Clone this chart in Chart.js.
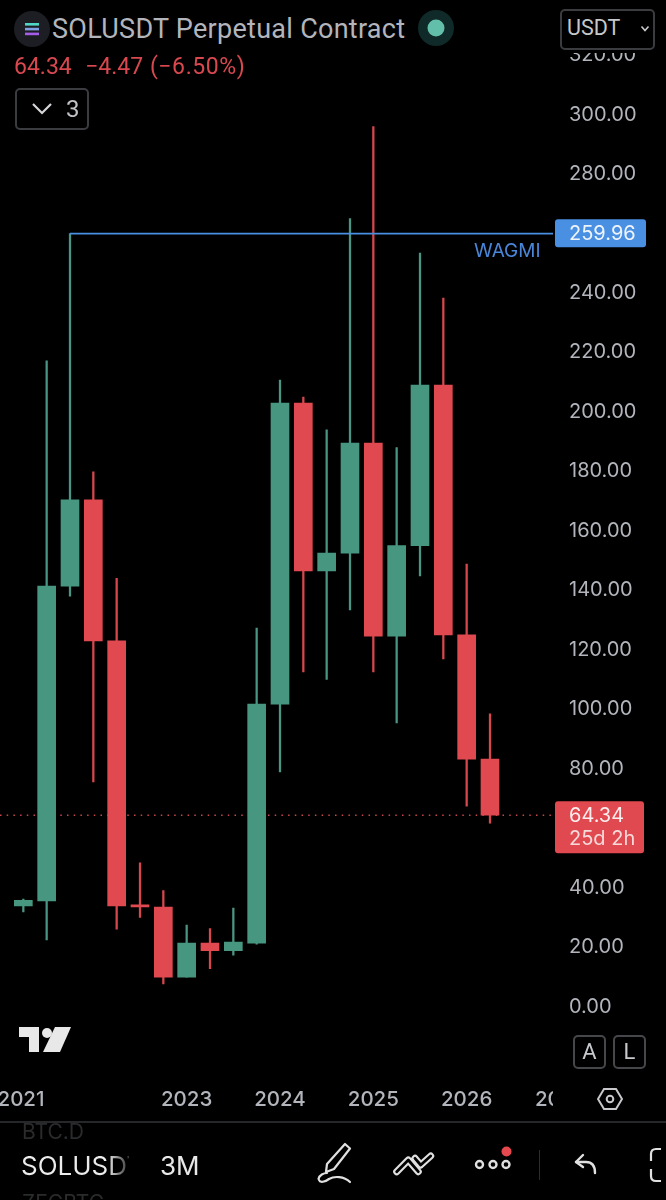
<!DOCTYPE html>
<html><head><meta charset="utf-8">
<script src="https://cdn.jsdelivr.net/npm/chart.js@4"></script>
<style>
html,body{margin:0;padding:0;background:#000;width:666px;height:1200px;overflow:hidden}
body{position:relative;font-family:Inter,Roboto,sans-serif}
canvas{position:absolute;left:0;top:0}
.a{position:absolute;white-space:nowrap}
.box{position:absolute;border:2px solid #3a3c40;border-radius:5px;box-sizing:border-box;background:#000}
</style></head><body>
<div style="position:absolute;left:0;top:0;width:666px;height:1200px"><canvas id="c" width="666" height="1200"></canvas></div>

<div class="a" style="left:0;top:0;width:666px;height:53px;background:#000"></div>
<svg class="a" style="left:14px;top:11px" width="36" height="36" viewBox="0 0 36 36">
 <circle cx="18" cy="18" r="18" fill="#1c1e24"/>
 <rect x="11" y="12" width="14" height="2.6" fill="#4fd6c4"/><rect x="11" y="16.8" width="14" height="2.6" fill="#7f9fe0"/><rect x="11" y="21.6" width="14" height="2.6" fill="#a45de8"/>
</svg>
<div class="a" style="left:52px;top:13px;font-size:27px;line-height:32px;color:#b2b5bc;font-family:Roboto,sans-serif;letter-spacing:.28px">SOLUSDT Perpetual Contract</div>
<svg class="a" style="left:418px;top:10px" width="36" height="36"><circle cx="18" cy="18" r="18" fill="#0f2a28"/><circle cx="18" cy="18" r="8.5" fill="#62bfa9"/></svg>
<div class="box" style="left:560px;top:9px;width:95px;height:41px"></div>
<div class="a" style="left:567px;top:14px;font-size:21.5px;line-height:28px;color:#c6c8cc;font-family:Roboto,sans-serif">USDT</div>
<svg class="a" style="left:640px;top:25px" width="10" height="8"><path d="M1.5 1.5L5 5.5L8.5 1.5" fill="none" stroke="#c6c8cc" stroke-width="1.6"/></svg>
<div class="a" style="left:14px;top:53px;font-size:23px;line-height:28px;color:#d9484f;font-family:Roboto,sans-serif;word-spacing:1px">64.34 &nbsp;−4.47 <span style="letter-spacing:.6px">(−6.50%)</span></div>
<div class="box" style="left:15px;top:88px;width:74px;height:42px"></div>
<svg class="a" style="left:31px;top:102px" width="22" height="14"><path d="M2 2L11 11L20 2" fill="none" stroke="#d5d6d9" stroke-width="2.2"/></svg>
<div class="a" style="left:66px;top:95px;font-size:24px;line-height:28px;color:#c0c2c6;font-family:Roboto,sans-serif">3</div>

<svg class="a" style="left:19px;top:1027px" width="52" height="27" viewBox="0 0 52 27">
 <path d="M0 0H20V25H10V10H0Z" fill="#e8e8e8"/><circle cx="28" cy="6" r="5" fill="#e8e8e8"/><path d="M36 0H52L41 25H24Z" fill="#e8e8e8"/>
</svg>
<div class="box" style="left:573px;top:1035px;width:33px;height:34px;border-color:#45474b"></div>
<div class="box" style="left:613px;top:1035px;width:33px;height:34px;border-color:#45474b"></div>
<div class="a" style="left:573px;top:1038px;width:33px;text-align:center;font-size:22px;line-height:28px;color:#c6c8cc;font-family:Roboto,sans-serif">A</div>
<div class="a" style="left:613px;top:1038px;width:33px;text-align:center;font-size:22px;line-height:28px;color:#c6c8cc;font-family:Roboto,sans-serif">L</div>

<div class="a" style="left:553px;top:1080px;width:113px;height:38px;background:#000"></div>
<svg class="a" style="left:597px;top:1087px" width="26" height="24" viewBox="0 0 26 24"><path d="M7 2H19L25 12L19 22H7L1 12Z" fill="none" stroke="#c6c8cc" stroke-width="2"/><circle cx="13" cy="12" r="3.3" fill="none" stroke="#c6c8cc" stroke-width="2"/></svg>
<div class="a" style="left:0;top:1121px;width:666px;height:1.5px;background:#262729"></div>

<div class="a" style="left:22px;top:1119px;font-size:21px;line-height:26px;color:#2a2b2d;font-family:Inter,sans-serif">BTC.D</div>
<div class="a" style="left:21px;top:1148px;font-size:26px;line-height:36px;width:108px;overflow:hidden;font-family:Inter,sans-serif;background:linear-gradient(90deg,#ececec 80%,#333 100%);-webkit-background-clip:text;color:transparent">SOLUSDT</div>
<div class="a" style="left:22px;top:1190px;font-size:21px;line-height:26px;color:#2a2b2d;font-family:Inter,sans-serif">ZECBTC</div>
<div class="a" style="left:160px;top:1148px;font-size:26px;line-height:36px;color:#e8e8e8;font-family:Inter,sans-serif">3M</div>

<svg class="a" style="left:316px;top:1140px" width="38" height="46" viewBox="0 0 38 46" fill="none" stroke="#e0e0e0" stroke-width="2.2" stroke-linejoin="round" stroke-linecap="round">
 <path d="M29 4L34 8.5L18 29L10 32L11 24Z"/><path d="M2.5 39C3 35 8 33 11 33M3 40C4 43 9 42 13 39C18 36 28 36 34 42"/>
</svg>
<svg class="a" style="left:393px;top:1148px" width="42" height="34" viewBox="0 0 42 34" fill="none" stroke-linejoin="round" stroke-linecap="round">
 <path d="M3.7 23.7L15.3 12L25.3 23.7M22 10.3L27.7 17L37.7 8" stroke="#e0e0e0" stroke-width="7"/>
 <path d="M3.7 23.7L15.3 12L25.3 23.7M22 10.3L27.7 17L37.7 8" stroke="#000" stroke-width="2.8"/>
</svg>
<svg class="a" style="left:474px;top:1146px" width="40" height="30" fill="none" stroke="#e0e0e0" stroke-width="2.4">
 <circle cx="5.5" cy="18.5" r="3.5"/><circle cx="19" cy="18.5" r="3.5"/><circle cx="32" cy="18.5" r="3.5"/><circle cx="32.5" cy="5.5" r="5" fill="#e5484f" stroke="none"/>
</svg>
<div class="a" style="left:539px;top:1150px;width:1px;height:30px;background:#2b2c2e"></div>
<svg class="a" style="left:572px;top:1152px" width="28" height="28" fill="none" stroke="#e0e0e0" stroke-width="2.4" stroke-linejoin="round" stroke-linecap="round"><path d="M11 3L4 10L11 15"/><path d="M4 10H14C20 10 23 14 23 21"/></svg>
<svg class="a" style="left:649px;top:1147px" width="14" height="36" fill="none" stroke="#e0e0e0" stroke-width="2.2"><path d="M12 2H7C4 2 2 4 2 7V14"/><path d="M2 22V29C2 32 4 34 7 34H12"/></svg>

<script>
const candleIndex = [1,2,3,4,5,6,7,8,9,10,11,12,13,14,15,16,17,18,19,20,21];
const opens  = [33.8,35.5,141.4,170.4,123,34.2,33.4,9.9,21.3,18.8,21.3,101.7,203,146.5,152.5,189.5,124.6,155,209,125,83.2];
const closes = [35.7,141.4,170.4,123,33.8,33.5,9.9,21.3,18.8,21.7,101.7,203,146.5,152.5,189.5,124.6,155,209,125,83.2,64.34];
const highs  = [36.1,217.2,259.96,179.8,144,48.3,39,27.4,26.2,33.1,127.3,210.7,205,194,265,296,188,253.4,238.3,148.8,98.4];
const lows   = [31.8,22.4,138,75.5,26,30,7.6,9.9,12.7,17.3,21,78.9,112.5,110,133.4,112.5,95.4,144.8,116.9,67.4,61.7];
const yTickValues = [0,20,40,60,80,100,120,140,160,180,200,220,240,260,280,300,320];
const xTickValues = [0.9,8,12,16,20,24];
const xTickLabels = ['2021','2023','2024','2025','2026','2027'];
const levelValue = 259.96, levelStart = 3, levelLabel = 'WAGMI';
const lastPrice = 64.34, countdown = '25d 2h';

const UP = '#469680', DOWN = '#e0494f', UPW = '#4a9684', WDOWN = '#d9474e', BLUE = '#4a90e2';
const isUp = candleIndex.map((_,i)=>closes[i]>=opens[i]);
const XMAX = 553/23.333, YMIN = -24, YMAX = 330;

const tags = {
 id:'tags',
 afterDraw(ch){
  const c = ch.ctx, y = ch.scales.y;
  const yl = y.getPixelForValue(levelValue), yp = y.getPixelForValue(lastPrice);
  c.save();
  c.textBaseline='middle'; c.textAlign='left';
  c.font='19px Inter'; c.fillStyle='#4a86d8';
  c.fillText(levelLabel,474,yl+17.5);
  c.fillStyle=BLUE; c.beginPath(); c.roundRect(555,yl-14.5,91,28,3); c.fill();
  c.fillStyle='#eef4fc'; c.font='20px Inter'; c.fillText(levelValue.toFixed(2),569,yl+.5);
  c.fillStyle=DOWN; c.beginPath(); c.roundRect(555,yp-14,89,52,3); c.fill();
  c.fillStyle='#fbeeee'; c.font='20px Inter'; c.fillText(lastPrice.toFixed(2),569,yp+1);
  c.fillStyle='#f8d9da'; c.fillText(countdown,569,yp+24);
  c.restore();
 }
};

new Chart(document.getElementById('c'),{
 type:'bar',
 plugins:[tags],
 data:{datasets:[
  {type:'line',label:'WAGMI',data:[{x:levelStart,y:levelValue},{x:XMAX,y:levelValue}],borderColor:BLUE,borderWidth:1.6,pointRadius:0,order:0},
  {label:'bodies',data:candleIndex.map((x,i)=>({x,y:[opens[i],closes[i]]})),backgroundColor:isUp.map(u=>u?UP:DOWN),barThickness:18,order:1,minBarLength:1.5},
  {label:'wicks',data:candleIndex.map((x,i)=>({x,y:[lows[i],highs[i]]})),backgroundColor:isUp.map(u=>u?UPW:WDOWN),barThickness:1.6,order:2},
  {type:'line',label:'last',data:[{x:0,y:lastPrice},{x:XMAX,y:lastPrice}],borderColor:'#c8474d',borderWidth:1.4,borderDash:[1.5,5.2],pointRadius:0,order:3}
 ]},
 options:{
  responsive:false,animation:false,devicePixelRatio:1,
  layout:{padding:{top:25.4,bottom:82.15,left:0,right:0}},
  plugins:{legend:{display:false},tooltip:{enabled:false},title:{display:false}},
  datasets:{bar:{grouped:false}},
  scales:{
   x:{type:'linear',offset:false,min:0,max:XMAX,grid:{display:false,drawTicks:false,tickLength:0,offset:false},border:{display:false},
    ticks:{color:'#b2b5bc',font:{family:'Inter',size:20.5,weight:'500'},padding:10,maxRotation:0,autoSkip:false,
      callback:(v)=>{const k=xTickValues.indexOf(v);return k>=0?xTickLabels[k]:''}},
    afterBuildTicks:s=>{s.ticks=xTickValues.map(v=>({value:v}))},
    afterFit:s=>{s.height=40;s.paddingLeft=0;s.paddingRight=0}},
   y:{type:'linear',position:'right',min:YMIN,max:YMAX,grid:{display:false,drawTicks:false,tickLength:0},border:{display:false},
    ticks:{color:'#b2b5bc',font:{family:'Inter',size:20},padding:16,autoSkip:false,callback:v=>Number(v).toFixed(2)},
    afterBuildTicks:s=>{s.ticks=yTickValues.map(v=>({value:v}))},
    afterFit:s=>{s.width=113;s.paddingTop=0;s.paddingBottom=0}}
  }
 }
});
</script>
</body></html>
